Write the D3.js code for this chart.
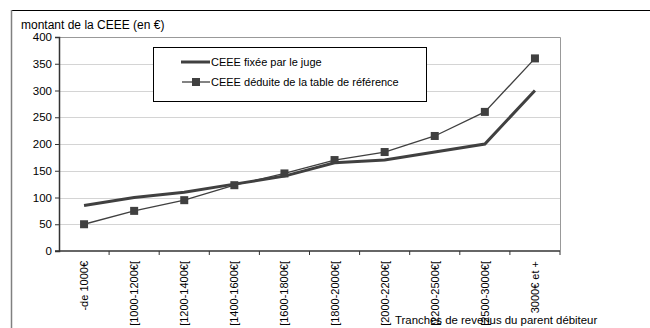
<!DOCTYPE html>
<html>
<head>
<meta charset="utf-8">
<script src="https://cdn.jsdelivr.net/npm/d3@7"></script>
<style>
	body { margin: 0; background: #fff; }
	svg text { font-family: "Liberation Sans", Arial, sans-serif; fill: #000; }
</style>
</head>
<body>
<svg id="chart" width="650" height="328"></svg>
<script>
// Tranches de revenus
const categories = [
	'-de 1000€',
	'[1000-1200€[',
	'[1200-1400€[',
	'[1400-1600€[',
	'[1600-1800€[',
	'[1800-2000€[',
	'[2000-2200€[',
	'[2200-2500€[',
	'[2500-3000€[',
	'3000€ et +',
];

// CEEE fixée par le juge
const fixedByJudge = [ 85, 100, 110, 125, 140, 165, 170, 185, 200, 300 ];

// CEEE déduite de la table de référence
const fromTable = [ 50, 75, 95, 123, 145, 170, 185, 215, 260, 360 ];

const yTicks = [ 0, 50, 100, 150, 200, 250, 300, 350, 400 ];

const seriesNames = [ 'CEEE fixée par le juge', 'CEEE déduite de la table de référence' ];

const svg = d3.select( '#chart' );
const lineColor = '#404040';

// outer frame
svg.append( 'rect' )
	.attr( 'x', 11.5 )
	.attr( 'y', 10.5 )
	.attr( 'width', 700 )
	.attr( 'height', 400 )
	.attr( 'fill', 'none' )
	.attr( 'stroke', '#000' )
	.attr( 'stroke-width', 1 );
svg.append( 'line' )
	.attr( 'x1', 11.5 ).attr( 'x2', 11.5 )
	.attr( 'y1', 10 ).attr( 'y2', 328 )
	.attr( 'stroke', '#808080' )
	.attr( 'stroke-width', 1.5 );

const plot = { left: 59, top: 37, right: 560, bottom: 251 };

const x = d3.scaleBand()
	.domain( categories )
	.range( [ plot.left, plot.right ] );

const y = d3.scaleLinear()
	.domain( [ 0, 400 ] )
	.range( [ plot.bottom, plot.top ] );

// gridlines
svg.append( 'g' )
	.selectAll( 'line' )
	.data( yTicks.slice( 1 ) )
	.enter()
	.append( 'line' )
	.attr( 'x1', plot.left )
	.attr( 'x2', plot.right )
	.attr( 'y1', ( d ) => Math.round( y( d ) ) + 0.5 )
	.attr( 'y2', ( d ) => Math.round( y( d ) ) + 0.5 )
	.attr( 'stroke', '#d4d4d4' )
	.attr( 'stroke-width', 1 );

// plot border right/top
svg.append( 'path' )
	.attr( 'd', `M${ plot.left },${ plot.top + 0.5 }H${ plot.right + 0.5 }V${ plot.bottom }` )
	.attr( 'fill', 'none' )
	.attr( 'stroke', '#999' )
	.attr( 'stroke-width', 1 );

// y axis
const yAxis = svg.append( 'g' )
	.attr( 'transform', `translate(${ plot.left },0)` )
	.call( d3.axisLeft( y ).tickValues( yTicks ).tickSize( 4 ).tickPadding( 3 ) );
yAxis.select( '.domain' ).attr( 'stroke', '#333' ).attr( 'stroke-width', 1.5 );
yAxis.selectAll( '.tick line' ).attr( 'stroke', '#333' );
yAxis.selectAll( 'text' )
	.attr( 'font-size', 11.5 )
	.attr( 'font-family', '"Liberation Sans", Arial, sans-serif' )
	.attr( 'fill', '#000' );

// x axis (ticks at band boundaries)
const xAxisG = svg.append( 'g' );
xAxisG.append( 'line' )
	.attr( 'x1', plot.left - 4 )
	.attr( 'x2', plot.right )
	.attr( 'y1', plot.bottom )
	.attr( 'y2', plot.bottom )
	.attr( 'stroke', '#333' )
	.attr( 'stroke-width', 1.5 );
xAxisG.selectAll( '.xtick' )
	.data( categories )
	.enter()
	.append( 'line' )
	.attr( 'x1', ( d ) => x( d ) + x.bandwidth() )
	.attr( 'x2', ( d ) => x( d ) + x.bandwidth() )
	.attr( 'y1', plot.bottom )
	.attr( 'y2', plot.bottom + 4 )
	.attr( 'stroke', '#333' );
xAxisG.selectAll( '.xlabel' )
	.data( categories )
	.enter()
	.append( 'text' )
	.attr( 'transform', ( d ) => `translate(${ x( d ) + x.bandwidth() / 2 + 4 },${ plot.bottom + 10 }) rotate(-90)` )
	.attr( 'text-anchor', 'end' )
	.attr( 'font-size', 11 )
	.text( ( d ) => d );

// lines
const line = d3.line()
	.x( ( d, i ) => x( categories[ i ] ) + x.bandwidth() / 2 )
	.y( ( d ) => y( d ) );

svg.append( 'path' )
	.datum( fromTable )
	.attr( 'd', line )
	.attr( 'fill', 'none' )
	.attr( 'stroke', lineColor )
	.attr( 'stroke-width', 1.3 );

svg.append( 'g' )
	.selectAll( 'rect' )
	.data( fromTable )
	.enter()
	.append( 'rect' )
	.attr( 'x', ( d, i ) => x( categories[ i ] ) + x.bandwidth() / 2 - 4 )
	.attr( 'y', ( d ) => y( d ) - 4 )
	.attr( 'width', 8 )
	.attr( 'height', 8 )
	.attr( 'fill', lineColor );

svg.append( 'path' )
	.datum( fixedByJudge )
	.attr( 'd', line )
	.attr( 'fill', 'none' )
	.attr( 'stroke', lineColor )
	.attr( 'stroke-width', 3 );

// legend
const legend = svg.append( 'g' );
legend.append( 'rect' )
	.attr( 'x', 153.5 )
	.attr( 'y', 47.5 )
	.attr( 'width', 273 )
	.attr( 'height', 54 )
	.attr( 'fill', '#fff' )
	.attr( 'stroke', '#000' );
legend.append( 'line' )
	.attr( 'x1', 181 ).attr( 'x2', 210 )
	.attr( 'y1', 62 ).attr( 'y2', 62 )
	.attr( 'stroke', lineColor )
	.attr( 'stroke-width', 3 );
legend.append( 'line' )
	.attr( 'x1', 182 ).attr( 'x2', 210 )
	.attr( 'y1', 82 ).attr( 'y2', 82 )
	.attr( 'stroke', lineColor )
	.attr( 'stroke-width', 1.3 );
legend.append( 'rect' )
	.attr( 'x', 192 ).attr( 'y', 78 )
	.attr( 'width', 8 ).attr( 'height', 8 )
	.attr( 'fill', lineColor );
legend.selectAll( '.ltext' )
	.data( seriesNames )
	.enter()
	.append( 'text' )
	.attr( 'x', 211 )
	.attr( 'y', ( d, i ) => 66 + i * 20 )
	.attr( 'font-size', 11 )
	.text( ( d ) => d );

// axis titles
svg.append( 'text' )
	.attr( 'x', 21 )
	.attr( 'y', 29 )
	.attr( 'font-size', 12 )
	.text( 'montant de la CEEE (en €)' );

svg.append( 'text' )
	.attr( 'x', 395 )
	.attr( 'y', 324 )
	.attr( 'font-size', 11.4 )
	.text( 'Tranches de revenus du parent débiteur' );
</script>
</body>
</html>
